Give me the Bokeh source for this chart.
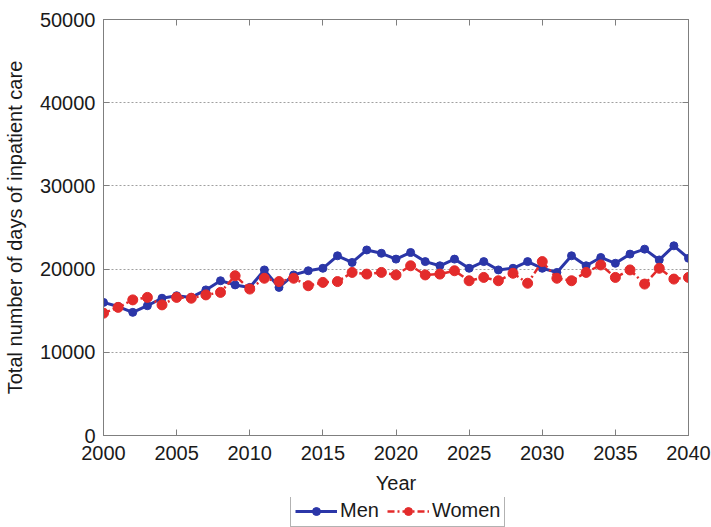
from bokeh.plotting import figure
from bokeh.layouts import column
from bokeh.models import LinearAxis, FixedTicker, Legend, LegendItem, Range1d
from bokeh.embed import file_html
from bokeh.resources import INLINE

years = list(range(2000, 2041))
men = [16000, 15500, 14800, 15600, 16500, 16800, 16600, 17500, 18600, 18100,
       17800, 19900, 17800, 19300, 19800, 20100, 21600, 20800, 22300, 21900,
       21200, 22000, 20900, 20400, 21200, 20100, 20900, 19900, 20100, 20900,
       20100, 19600, 21600, 20400, 21400, 20700, 21800, 22400, 21100, 22800,
       21300]
women = [14700, 15400, 16300, 16600, 15700, 16600, 16500, 16900, 17200, 19200,
         17600, 18900, 18500, 18900, 18000, 18400, 18500, 19600, 19400, 19600,
         19300, 20400, 19300, 19400, 19800, 18600, 19000, 18600, 19500, 18300,
         20900, 18900, 18600, 19600, 20500, 19000, 19900, 18200, 20100, 18800,
         19000]
x_ticks = list(range(2000, 2041, 5))
y_ticks = [0, 10000, 20000, 30000, 40000, 50000]
series_labels = ["Men", "Women"]

FONT = "Liberation Sans"
GRAY = "#7f7f7f"
MEN_C = "#2b36a8"
WOMEN_C = "#e32b2b"
WOMEN_DASH = "7 3 2 3"


def draw_series(fig):
    ml = fig.line(years, men, line_color=MEN_C, line_width=3)
    ms = fig.scatter(years, men, size=8, fill_color=MEN_C, line_color=MEN_C)
    wl = fig.line(years, women, line_color=WOMEN_C, line_width=2.5, line_dash=WOMEN_DASH)
    ws = fig.scatter(years, women, size=10, fill_color=WOMEN_C, line_color=WOMEN_C)
    return ml, ms, wl, ws


p = figure(width=711, height=497, output_backend="svg", toolbar_location=None,
           x_range=Range1d(2000, 2040), y_range=Range1d(0, 50000),
           min_border_left=101, min_border_right=23, min_border_top=19,
           min_border_bottom=62, background_fill_color="white",
           border_fill_color="white")
p.outline_line_color = GRAY

p.xaxis.ticker = FixedTicker(ticks=x_ticks)
p.yaxis.ticker = FixedTicker(ticks=y_ticks)
p.xaxis.axis_label = "Year"
p.yaxis.axis_label = "Total number of days of inpatient care"

for ax in (p.xaxis[0], p.yaxis[0]):
    ax.axis_line_color = GRAY
    ax.major_tick_line_color = GRAY
    ax.major_tick_in = 6
    ax.major_tick_out = 0
    ax.minor_tick_line_color = None
    ax.major_label_text_font = FONT
    ax.major_label_text_font_size = "20px"
    ax.major_label_text_color = "#1a1a1a"
    ax.axis_label_text_font = FONT
    ax.axis_label_text_font_size = "20px"
    ax.axis_label_text_font_style = "normal"
    ax.axis_label_text_color = "#1a1a1a"

p.xaxis.major_label_standoff = 10
p.xaxis.axis_label_standoff = 9
p.yaxis.major_label_standoff = 8
p.yaxis.axis_label_standoff = 11

top = LinearAxis(ticker=FixedTicker(ticks=x_ticks), major_label_text_color=None,
                 major_tick_in=6, major_tick_out=0, axis_line_color=GRAY,
                 major_tick_line_color=GRAY, minor_tick_line_color=None,
                 major_label_standoff=0, major_label_text_font_size="1px")
right = LinearAxis(ticker=FixedTicker(ticks=y_ticks), major_label_text_color=None,
                   major_tick_in=6, major_tick_out=0, axis_line_color=GRAY,
                   major_tick_line_color=GRAY, minor_tick_line_color=None,
                   major_label_standoff=0, major_label_text_font_size="1px")
p.add_layout(top, "above")
p.add_layout(right, "right")

p.xgrid.visible = False
p.ygrid.grid_line_color = "#a0a0a0"
p.ygrid.grid_line_dash = "2 2"
p.ygrid.grid_line_width = 1

draw_series(p)

# legend strip below the axes (MATLAB "southoutside" style); the series are
# drawn here too but fall outside this strip's ranges, so only the key shows
lg = figure(width=711, height=30, output_backend="svg", toolbar_location=None,
            x_axis_type=None, y_axis_type=None, x_range=Range1d(0, 1),
            y_range=Range1d(0, 1), min_border=0, outline_line_color=None,
            background_fill_color="white", border_fill_color="white")
lg.grid.visible = False
ml, ms, wl, ws = draw_series(lg)

legend = Legend(items=[LegendItem(label=series_labels[0], renderers=[ml, ms]),
                       LegendItem(label=series_labels[1], renderers=[wl, ws])],
                orientation="horizontal", location=(187, 0),
                label_text_font=FONT, label_text_font_size="20px",
                label_text_color="#1a1a1a",
                glyph_width=42, glyph_height=20, label_height=20,
                padding=4, spacing=8, margin=0, label_standoff=3,
                border_line_color="#666666", background_fill_alpha=1)
lg.add_layout(legend, "center")

layout = column(p, lg, spacing=0)
open("out.html", "w").write(file_html(layout, INLINE))
